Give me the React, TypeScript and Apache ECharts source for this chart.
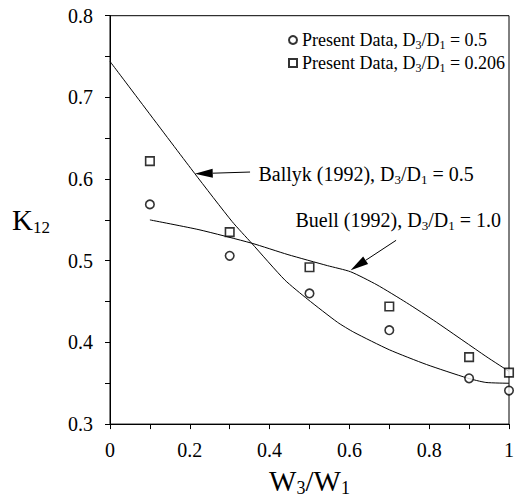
import React, { useEffect, useRef } from "react";
import * as echarts from "echarts";

const FONT = "Liberation Serif";

// Measured data points
const dataX = [0.1, 0.3, 0.5, 0.7, 0.9, 1.0];
const present05 = [0.569, 0.506, 0.46, 0.415, 0.356, 0.341];
const present0206 = [0.622, 0.535, 0.492, 0.444, 0.382, 0.363];

// Ballyk (1992), D3/D1 = 0.5
const ballykX = [0, 0.212, 0.306, 0.355, 0.438, 0.496, 0.57, 0.611, 0.7, 0.793, 0.896, 0.942, 1.0];
const ballykY = [0.744, 0.607, 0.548, 0.5215, 0.4765, 0.4526, 0.4247, 0.4125, 0.391, 0.373, 0.3563, 0.351, 0.35];

// Buell (1992), D3/D1 = 1.0
const buellX = [0.1, 0.223, 0.355, 0.446, 0.545, 0.603, 0.669, 0.743, 0.818, 0.942, 1.0];
const buellY = [0.55, 0.538, 0.5215, 0.5075, 0.494, 0.4865, 0.4705, 0.4487, 0.4248, 0.383, 0.3645];

const seriesNames = ["Present Data, D3/D1 = 0.5", "Present Data, D3/D1 = 0.206"];

// Annotations in data coordinates
const ballykNote = { text: "Ballyk (1992), D{s|3}/D{s|1} = 0.5", at: [0.372, 0.6059], tail: [0.351, 0.6086], tip: [0.2124, 0.6065] };
const buellNote = { text: "Buell (1992), D{s|3}/D{s|1} = 1.0", at: [0.465, 0.55], tail: [0.717, 0.525], tip: [0.603, 0.4884] };

const subRich = (size: number) => ({
  s: { fontSize: size, fontFamily: FONT, color: "#000", verticalAlign: "bottom" as const, lineHeight: size },
});

export default function App() {
  const ref = useRef<HTMLDivElement>(null);
  useEffect(() => {
    document.body.style.margin = "0";
    const chart = echarts.init(ref.current!, null, { renderer: "svg" });
    const axisCommon = {
      axisLine: { lineStyle: { color: "#000", width: 1 } },
      axisTick: { length: 5, lineStyle: { color: "#000" } },
      minorTick: { show: true, splitNumber: 2, length: 5, lineStyle: { color: "#000" } },
      splitLine: { show: false },
    };
    chart.setOption({
      animation: false,
      backgroundColor: "#fff",
      textStyle: { fontFamily: FONT },
      grid: { left: 110, right: 3.5, top: 15.7, bottom: 67.5, show: true, borderColor: "#000", borderWidth: 1 },
      legend: {
        data: seriesNames,
        orient: "vertical",
        left: 288,
        top: 29,
        padding: 0,
        itemWidth: 8,
        itemHeight: 8,
        itemGap: 1,
        formatter: (n: string) => n.replace("D3", "D{s|3}").replace("D1", "D{s|1}"),
        textStyle: {
          fontSize: 18,
          fontFamily: FONT,
          color: "#000",
          lineHeight: 22,
          rich: { s: { fontSize: 12, fontFamily: FONT, color: "#000", verticalAlign: "bottom", lineHeight: 12 } },
        },
      },
      xAxis: {
        type: "value",
        min: 0,
        max: 1,
        interval: 0.2,
        ...axisCommon,
        axisLabel: { fontSize: 20, fontFamily: FONT, color: "#000", margin: 16 },
        name: "W{s|3}/W{s|1}",
        nameLocation: "middle",
        nameGap: 31,
        nameTextStyle: { fontSize: 29, fontFamily: FONT, color: "#000", lineHeight: 32, rich: subRich(18) },
      },
      yAxis: {
        type: "value",
        min: 0.3,
        max: 0.8,
        interval: 0.1,
        ...axisCommon,
        axisLabel: { fontSize: 20, fontFamily: FONT, color: "#000", margin: 17 },
        name: "K{s|12}",
        nameLocation: "middle",
        nameRotate: 0,
        nameGap: 60,
        nameTextStyle: { fontSize: 29, fontFamily: FONT, color: "#000", lineHeight: 32, rich: subRich(17) },
      },
      series: [
        {
          type: "line",
          name: "Ballyk (1992)",
          data: ballykX.map((x, i) => [x, ballykY[i]]),
          showSymbol: false,
          smooth: 0.2,
          lineStyle: { color: "#000", width: 1 },
          z: 1,
        },
        {
          type: "line",
          name: "Buell (1992)",
          data: buellX.map((x, i) => [x, buellY[i]]),
          showSymbol: false,
          smooth: 0.2,
          lineStyle: { color: "#000", width: 1 },
          z: 1,
        },
        {
          type: "scatter",
          name: seriesNames[0],
          data: dataX.map((x, i) => [x, present05[i]]),
          symbol: "circle",
          symbolSize: 8.5,
          itemStyle: { color: "#fff", borderColor: "#000", borderWidth: 1.6 },
          z: 3,
        },
        {
          type: "scatter",
          name: seriesNames[1],
          data: dataX.map((x, i) => [x, present0206[i]]),
          symbol: "rect",
          symbolSize: 8.5,
          itemStyle: { color: "#fff", borderColor: "#000", borderWidth: 1.6 },
          z: 3,
        },
      ],
    });

    const px = (p: number[]) => chart.convertToPixel({ gridIndex: 0 }, p) as number[];
    const arrow = (tailD: number[], tipD: number[]) => {
      const t = px(tailD);
      const h = px(tipD);
      const dx = h[0] - t[0];
      const dy = h[1] - t[1];
      const len = Math.hypot(dx, dy);
      const ux = dx / len;
      const uy = dy / len;
      const hl = 18;
      const hw = 4.5;
      const bx = h[0] - ux * hl;
      const by = h[1] - uy * hl;
      return [
        { type: "line", shape: { x1: t[0], y1: t[1], x2: bx, y2: by }, style: { stroke: "#000", lineWidth: 1 } },
        {
          type: "polygon",
          shape: { points: [[h[0], h[1]], [bx - uy * hw, by + ux * hw], [bx + uy * hw, by - ux * hw]] },
          style: { fill: "#000" },
        },
      ];
    };
    const note = (n: typeof ballykNote) => {
      const p = px(n.at);
      return {
        type: "text",
        x: p[0],
        y: p[1],
        style: {
          text: n.text,
          fontSize: 20,
          fontFamily: FONT,
          fill: "#000",
          lineHeight: 24,
          verticalAlign: "middle",
          align: "left",
          rich: { s: { fontSize: 13, fontFamily: FONT, fill: "#000", verticalAlign: "bottom", lineHeight: 13 } },
        },
      };
    };
    chart.setOption({
      graphic: [
        ...arrow(ballykNote.tail, ballykNote.tip),
        ...arrow(buellNote.tail, buellNote.tip),
        note(ballykNote),
        note(buellNote),
      ],
    });
    return () => chart.dispose();
  }, []);
  return <div ref={ref} style={{ width: 517, height: 502 }} />;
}
